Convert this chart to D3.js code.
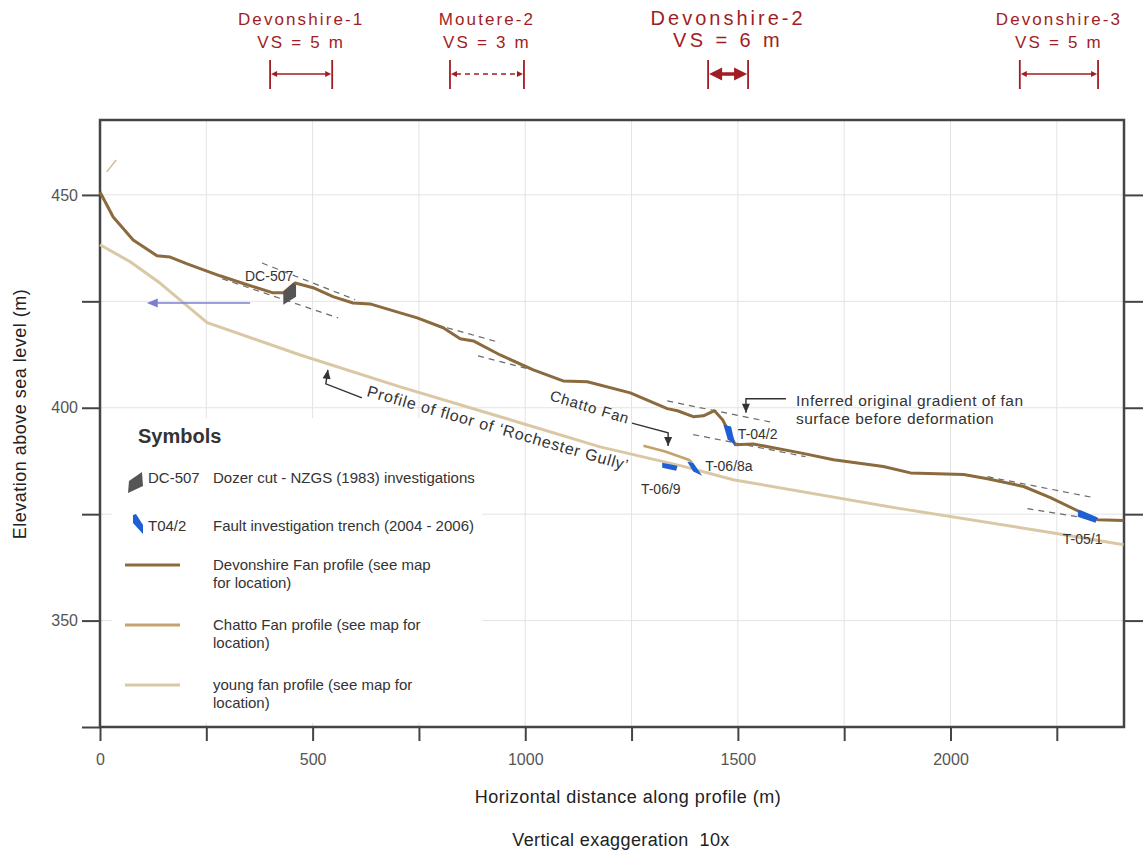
<!DOCTYPE html>
<html>
<head>
<meta charset="utf-8">
<script src="https://cdn.jsdelivr.net/npm/d3@7"></script>
<style>
  body { margin: 0; background: #fff; }
  svg { display: block; font-family: "Liberation Sans", Arial, Helvetica, sans-serif; }
</style>
</head>
<body>
<svg id="chart" width="1143" height="855"></svg>
<script>
// profile data: [distance along profile (m), elevation (m)]
const devonshireFan = [
  [0, 450.7], [31, 444.8], [78, 439.4], [134, 435.7], [165, 435.4], [205, 433.8],
  [282, 431.0], [346, 428.9], [407, 427.0], [431, 427.0], [459, 429.3], [501, 428.2],
  [548, 426.1], [595, 424.6], [635, 424.4], [706, 422.3], [746, 421.1], [807, 418.8],
  [847, 416.2], [878, 415.7], [941, 412.4], [1019, 408.9], [1089, 406.3], [1146, 406.1],
  [1247, 403.5], [1334, 399.8], [1358, 399.3], [1395, 397.9], [1419, 398.1], [1445, 399.3],
  [1464, 397.2], [1494, 391.3], [1536, 391.5], [1647, 389.4], [1725, 387.8], [1842, 386.2],
  [1906, 384.7], [2031, 384.3], [2087, 383.3], [2172, 381.5], [2235, 378.9], [2299, 375.8],
  [2346, 373.7], [2407, 373.5]
];
const chattoFan = [[1278, 391.1], [1329, 389.7], [1384, 387.8], [1392, 387.2]];
const youngFan = [
  [0, 438.3], [71, 434.3], [141, 429.3], [252, 420.0], [471, 412.4], [706, 404.9],
  [941, 397.9], [1176, 390.8], [1365, 386.4], [1489, 383.1], [1882, 376.3], [2235, 370.7],
  [2407, 367.8]
];

// fault trenches (outline in data units) and labels
const trenchNames = ['T-04/2', 'T-06/8a', 'T-06/9', 'T-05/1'];
const trenchShapes = [
  [[1466, 396.0], [1484, 395.6], [1494, 391.2], [1476, 392.6]],
  [[1381, 387.3], [1395, 387.1], [1416, 384.0], [1395, 385.0]],
  [[1322, 387.1], [1358, 386.4], [1355, 385.2], [1322, 385.9]],
  [[2301, 376.1], [2313, 375.6], [2346, 374.2], [2341, 373.0], [2299, 374.4]]
];
const trenchLabelPos = [[1500, 392.7], [1423, 385.1], [1272, 379.7], [2264, 368.0]];

const dozerCut = [[431, 427.2], [454, 429.3], [461, 428.9], [461, 426.1], [431, 424.2]];
const dozerLabelPos = [341, 429.8];

// inferred original fan gradients (dashed)
const gradientLines = [
  [[381, 434.0], [600, 425.4]], [[287, 430.3], [560, 421.1]],
  [[816, 418.8], [941, 415.3]], [[889, 412.2], [1005, 409.2]],
  [[1334, 401.6], [1584, 396.5]], [[1395, 393.7], [1659, 388.5]],
  [[2087, 383.8], [2336, 378.9]], [[2181, 376.3], [2299, 374.4]]
];

// vertical separation brackets
const vsNames = ['Devonshire-1', 'Moutere-2', 'Devonshire-2', 'Devonshire-3'];
const vsValues = ['VS = 5 m', 'VS = 3 m', 'VS = 6 m', 'VS = 5 m'];
const vsFrom = [400, 823, 1430, 2163];
const vsTo = [546, 997, 1524, 2347];

const xTicks = [0, 250, 500, 750, 1000, 1250, 1500, 1750, 2000, 2250];
const yTicks = [325, 350, 375, 400, 425, 450];

const legendItems = [
  { text: ['Devonshire Fan profile (see map', 'for location)'], color: '#8b6a3e' },
  { text: ['Chatto Fan profile (see map for', 'location)'], color: '#c4a36c' },
  { text: ['young fan profile (see map for', 'location)'], color: '#dac8a5' }
];

const svg = d3.select('#chart');
const x = d3.scaleLinear().domain([0, 2408]).range([100, 1124]);
const y = d3.scaleLinear().domain([325, 467.6]).range([727, 120]);
const line = d3.line().x(d => x(d[0])).y(d => y(d[1]));

// grid
const grid = svg.append('g').attr('stroke', '#e3e3e3').attr('stroke-width', 1);
grid.selectAll('.gx').data(xTicks.filter(d => d > 0)).enter().append('line')
  .attr('x1', d => x(d)).attr('x2', d => x(d)).attr('y1', 120).attr('y2', 727);
grid.selectAll('.gy').data(yTicks.filter(d => d > 325)).enter().append('line')
  .attr('y1', d => y(d)).attr('y2', d => y(d)).attr('x1', 100).attr('x2', 1124);

// legend background
svg.append('rect').attr('x', 112).attr('y', 418).attr('width', 370).attr('height', 305).attr('fill', '#fff');

// axes
const axisLeft = svg.append('g').attr('transform', 'translate(100,0)')
  .call(d3.axisLeft(y).tickValues(yTicks).tickSize(18).tickPadding(4)
    .tickFormat(d => d % 50 === 0 ? d : ''));
const axisRight = svg.append('g').attr('transform', 'translate(1124,0)')
  .call(d3.axisRight(y).tickValues(yTicks.filter(d => d > 325)).tickSize(19).tickFormat(''));
const axisBottom = svg.append('g').attr('transform', 'translate(0,727)')
  .call(d3.axisBottom(x).tickValues(xTicks).tickSize(14).tickPadding(13)
    .tickFormat(d => d % 500 === 0 ? d : ''));
[axisLeft, axisRight, axisBottom].forEach(g => {
  g.select('.domain').remove();
  g.selectAll('line').attr('stroke', '#444').attr('stroke-width', 2);
  g.selectAll('text').attr('fill', '#555').attr('font-size', 16)
    .attr('font-family', '"Liberation Sans", Arial, sans-serif');
});

svg.append('rect').attr('x', 100).attr('y', 120).attr('width', 1024).attr('height', 607)
  .attr('fill', 'none').attr('stroke', '#444').attr('stroke-width', 2.5);

// axis titles
svg.append('text').attr('transform', 'translate(26,414) rotate(-90)')
  .attr('text-anchor', 'middle').attr('font-size', 18).attr('letter-spacing', 0.5)
  .attr('fill', '#222').text('Elevation above sea level (m)');
svg.append('text').attr('x', 628).attr('y', 803).attr('text-anchor', 'middle')
  .attr('font-size', 18).attr('letter-spacing', 0.5).attr('fill', '#222')
  .text('Horizontal distance along profile (m)');
svg.append('text').attr('x', 621).attr('y', 846).attr('text-anchor', 'middle')
  .attr('font-size', 18).attr('letter-spacing', 0.4).attr('fill', '#222').style('white-space', 'pre')
  .text('Vertical exaggeration  10x');

// small tan stroke at top left
svg.append('path').attr('d', line([[16, 455.4], [38, 458.2]]))
  .attr('stroke', '#cbb890').attr('stroke-width', 1.3).attr('fill', 'none');

// dashed gradient lines
svg.selectAll('.grad').data(gradientLines).enter().append('path')
  .attr('d', line).attr('fill', 'none').attr('stroke', '#6a6a6a')
  .attr('stroke-width', 1.2).attr('stroke-dasharray', '6,5');

// profiles
svg.append('path').attr('d', line(youngFan)).attr('fill', 'none')
  .attr('stroke', '#dac8a5').attr('stroke-width', 3).attr('stroke-linejoin', 'round');
svg.append('path').attr('d', line(chattoFan)).attr('fill', 'none')
  .attr('stroke', '#c4a36c').attr('stroke-width', 2.6);
svg.append('path').attr('d', line(devonshireFan)).attr('fill', 'none')
  .attr('stroke', '#8b6a3e').attr('stroke-width', 3).attr('stroke-linejoin', 'round');

// trenches
svg.selectAll('.trench').data(trenchShapes).enter().append('path')
  .attr('d', d => line(d) + 'Z').attr('fill', '#1f5fd4');
svg.selectAll('.tlabel').data(trenchNames).enter().append('text')
  .attr('x', (d, i) => x(trenchLabelPos[i][0])).attr('y', (d, i) => y(trenchLabelPos[i][1]))
  .attr('font-size', 14).attr('fill', '#333').text(d => d);

svg.append('path').attr('d', line(dozerCut) + 'Z').attr('fill', '#555');
svg.append('text').attr('x', x(dozerLabelPos[0])).attr('y', y(dozerLabelPos[1]))
  .attr('font-size', 14).attr('fill', '#333').text('DC-507');

// blue arrow
const blueY = y(424.6);
svg.append('line').attr('x1', x(353)).attr('x2', x(118)).attr('y1', blueY).attr('y2', blueY)
  .attr('stroke', '#7b7fd2').attr('stroke-width', 1.5);
svg.append('path').attr('fill', '#7b7fd2')
  .attr('d', `M${x(110)},${blueY}l11,-4.5v9z`);

// leader arrows
function leader(pts) {
  svg.append('path').attr('d', line(pts)).attr('fill', 'none')
    .attr('stroke', '#333').attr('stroke-width', 1.4);
  const [a, b] = [pts[pts.length - 2], pts[pts.length - 1]];
  const ang = Math.atan2(y(b[1]) - y(a[1]), x(b[0]) - x(a[0])) * 180 / Math.PI;
  svg.append('path').attr('d', 'M0,0L-9,-4L-9,4Z').attr('fill', '#333')
    .attr('transform', `translate(${x(b[0])},${y(b[1])}) rotate(${ang})`);
}
leader([[616, 402.3], [531, 405.6], [536, 408.9]]);
leader([[1251, 396.4], [1336, 394.1], [1336, 391.0]]);
leader([[1613, 402.1], [1519, 402.1], [1519, 398.8]]);

svg.append('text').attr('transform', 'translate(366,396) rotate(16)')
  .attr('font-size', 16).attr('letter-spacing', 0.8).attr('fill', '#333')
  .text('Profile of floor of \u2018Rochester Gully\u2019');
svg.append('text').attr('transform', 'translate(549,400) rotate(17)')
  .attr('font-size', 15).attr('letter-spacing', 0.8).attr('fill', '#333')
  .text('Chatto Fan');
svg.append('text').attr('x', 796).attr('y', 406).attr('font-size', 15.5)
  .attr('letter-spacing', 0.5).attr('fill', '#333').text('Inferred original gradient of fan');
svg.append('text').attr('x', 796).attr('y', 424).attr('font-size', 15.5)
  .attr('letter-spacing', 0.5).attr('fill', '#333').text('surface before deformation');

// vertical separation brackets
const red = '#a11d24';
vsNames.forEach((name, i) => {
  const x0 = x(vsFrom[i]), x1 = x(vsTo[i]), cx = (x0 + x1) / 2;
  const big = i === 2;
  const g = svg.append('g').attr('fill', red).attr('stroke', red);
  g.append('text').attr('x', cx).attr('y', 25).attr('text-anchor', 'middle').attr('stroke', 'none')
    .attr('font-size', big ? 20 : 17).attr('letter-spacing', big ? 3 : 2.1).text(name);
  g.append('text').attr('x', cx).attr('y', big ? 47 : 48).attr('text-anchor', 'middle').attr('stroke', 'none')
    .attr('font-size', big ? 20 : 17).attr('letter-spacing', big ? 3.4 : 2.2).text(vsValues[i]);
  [x0, x1].forEach(xb => g.append('line').attr('x1', xb).attr('x2', xb)
    .attr('y1', 60).attr('y2', 89).attr('stroke-width', 1.8));
  const L = big ? 13 : 6, W = big ? 6.5 : 3;
  g.append('line').attr('x1', x0 + L).attr('x2', x1 - L).attr('y1', 74).attr('y2', 74)
    .attr('stroke-width', big ? 3.5 : 1.3).attr('stroke-dasharray', i === 1 ? '5,4' : null);
  g.append('path').attr('stroke', 'none')
    .attr('d', `M${x0 + 1},74l${L},-${W}v${2 * W}zM${x1 - 1},74l-${L},-${W}v${2 * W}z`);
});

// legend
const lg = svg.append('g');
lg.append('text').attr('x', 138).attr('y', 443).attr('font-size', 20).attr('font-weight', 'bold')
  .attr('fill', '#333').text('Symbols');
lg.append('path').attr('d', 'M128,493L129,481L142,472L143,486Z').attr('fill', '#555');
lg.append('text').attr('x', 148).attr('y', 483).attr('font-size', 15).attr('fill', '#333').text('DC-507');
lg.append('text').attr('x', 213).attr('y', 483).attr('font-size', 15).attr('fill', '#333')
  .text('Dozer cut - NZGS (1983) investigations');
lg.append('path').attr('d', 'M133,515L136,514L143,525L143,534L133,523Z').attr('fill', '#1f5fd4');
lg.append('text').attr('x', 148).attr('y', 531).attr('font-size', 15).attr('fill', '#333').text('T04/2');
lg.append('text').attr('x', 213).attr('y', 531).attr('font-size', 15).attr('fill', '#333')
  .text('Fault investigation trench (2004 - 2006)');
legendItems.forEach((item, i) => {
  const ly = 565 + i * 60;
  lg.append('line').attr('x1', 125).attr('x2', 180).attr('y1', ly).attr('y2', ly)
    .attr('stroke', item.color).attr('stroke-width', 3);
  item.text.forEach((t, j) => lg.append('text').attr('x', 213).attr('y', ly + 5 + j * 18)
    .attr('font-size', 15).attr('fill', '#333').text(t));
});
</script>
</body>
</html>
